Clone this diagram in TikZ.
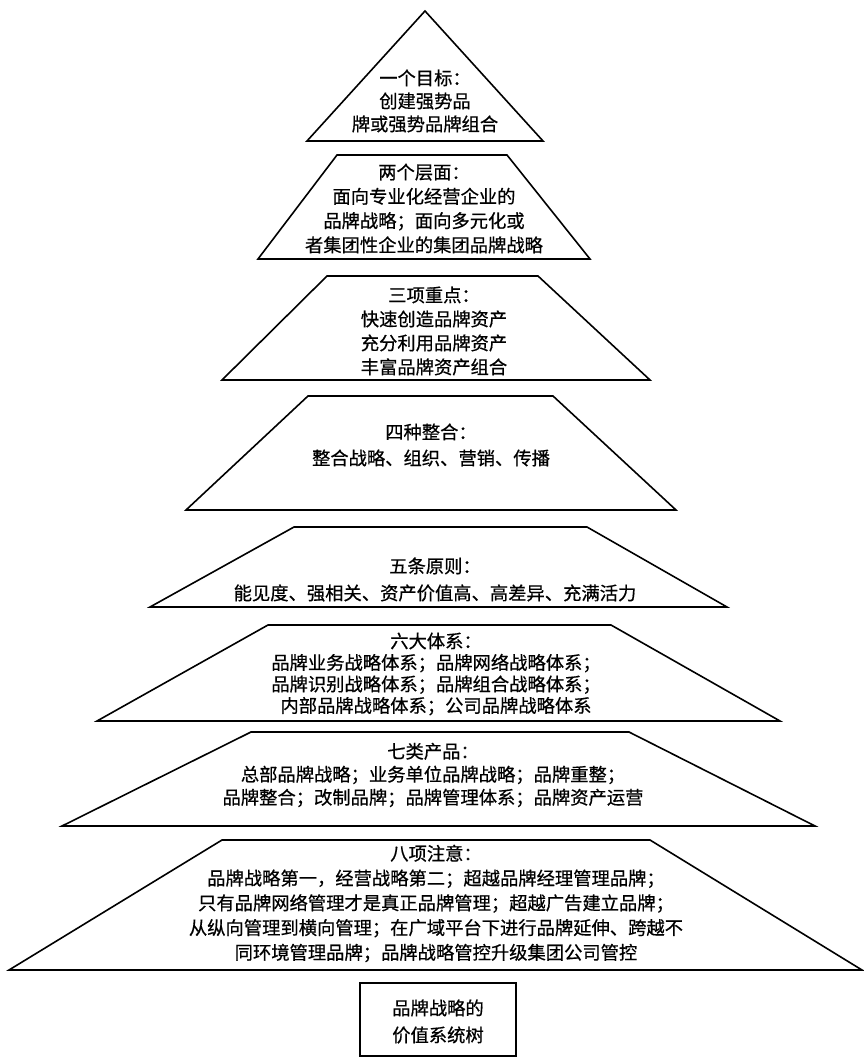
\documentclass[tikz,border=0pt]{standalone}
\usepackage{fontspec}
\setmainfont[FakeBold=0.6]{Noto Sans CJK SC}
\tikzset{
  layer/.style={draw=black, line width=1.6pt, line join=miter},
  layertext/.style={align=center, inner sep=0pt, text=black},
}
\newcommand{\fs}[1]{\fontsize{18.3}{#1}\selectfont}
\begin{document}
\begin{tikzpicture}[x=1pt,y=-1pt]
\path[fill=white] (0,0) rectangle (863,1059);
\useasboundingbox (0,0) rectangle (863,1059);
% layer 1
\draw[layer] (425,11) -- (543,141) -- (307,141) -- cycle;
\node[layertext, font=\fs{23}] (l1) at (425,101) {一个目标：\\创建强势品\\牌或强势品牌组合};
% layer 2
\draw[layer] (337,155) -- (507,155) -- (590,259) -- (258,259) -- cycle;
\node[layertext, font=\fs{24.3}] (l2) at (424,208.5) {两个层面：\\面向专业化经营企业的\\品牌战略；面向多元化或\\者集团性企业的集团品牌战略};
% layer 3
\draw[layer] (327,276) -- (538,276) -- (650,380) -- (222,380) -- cycle;
\node[layertext, font=\fs{24}] (l3) at (434,331) {三项重点：\\快速创造品牌资产\\充分利用品牌资产\\丰富品牌资产组合};
% layer 4
\draw[layer] (308,396) -- (553,396) -- (676,510) -- (186,510) -- cycle;
\node[layertext, font=\fs{26}] (l4) at (431,445) {四种整合：\\整合战略、组织、营销、传播};
% layer 5
\draw[layer] (294,527) -- (587,527) -- (727,607) -- (150,607) -- cycle;
\node[layertext, font=\fs{27}] (l5) at (435,579.5) {五条原则：\\能见度、强相关、资产价值高、高差异、充满活力};
% layer 6
\draw[layer] (268,625) -- (611,625) -- (780,721) -- (97,721) -- cycle;
\node[layertext, font=\fs{21.5}] (l6) at (436,674) {六大体系：\\品牌业务战略体系；品牌网络战略体系；\\品牌识别战略体系；品牌组合战略体系；\\内部品牌战略体系；公司品牌战略体系};
% layer 7
\draw[layer] (251,732) -- (629,732) -- (815,826) -- (62,826) -- cycle;
\node[layertext, font=\fs{23}] (l7) at (433,775) {七类产品：\\总部品牌战略；业务单位品牌战略；品牌重整；\\品牌整合；改制品牌；品牌管理体系；品牌资产运营};
% layer 8
\draw[layer] (222,840) -- (650,840) -- (862,970) -- (9,970) -- cycle;
\node[layertext, font=\fs{24.75}] (l8) at (436,903.5) {八项注意：\\品牌战略第一，经营战略第二；超越品牌经理管理品牌；\\只有品牌网络管理才是真正品牌管理；超越广告建立品牌；\\从纵向管理到横向管理；在广域平台下进行品牌延伸、跨越不\\同环境管理品牌；品牌战略管控升级集团公司管控};
% box
\draw[layer] (360,983) rectangle (516,1056);
\node[layertext, font=\fs{27}] (box) at (438,1021.5) {品牌战略的\\价值系统树};
\end{tikzpicture}
\end{document}
